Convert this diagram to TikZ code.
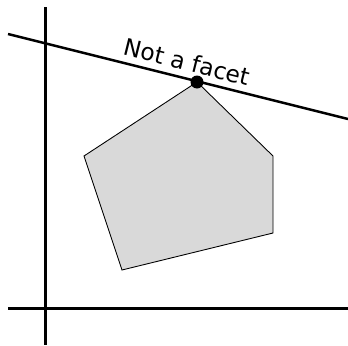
\documentclass[tikz,border=0pt]{standalone}
\usepackage{fontspec}
\setmainfont{DejaVu Sans}
\usepackage{tikz}
\usetikzlibrary{positioning}

\begin{document}
\begin{tikzpicture}[x=0.02cm, y=-0.02cm]
\useasboundingbox (0,0) rectangle (348,345);
% --- axes ---
\coordinate (ytop) at (45.5,7);
\coordinate (ybot) at (45.5,345);
\coordinate (xleft) at (8,308.5);
\coordinate (xright) at (348,308.5);
\draw[line width=1.7pt] (ytop) -- (ybot);
\draw[line width=1.7pt] (xleft) -- (xright);
% --- polytope ---
\coordinate (v1) at (197,82);
\coordinate (v2) at (273,156);
\coordinate (v3) at (273,233);
\coordinate (v4) at (122,270);
\coordinate (v5) at (84,156);
\filldraw[fill=black!15, draw=black, line width=0.5pt] (v1) -- (v2) -- (v3) -- (v4) -- (v5) -- cycle;
% --- supporting line ---
\coordinate (l1) at (8,34);
\coordinate (l2) at (348,119);
\draw[line width=1.4pt] (l1) -- (l2)
  node[pos=0.515, sloped, above, inner sep=3.5pt, font=\fontsize{13.3}{15}\selectfont] (lbl) {Not a facet};
\fill (v1) circle (0.13cm);
\end{tikzpicture}
\end{document}
